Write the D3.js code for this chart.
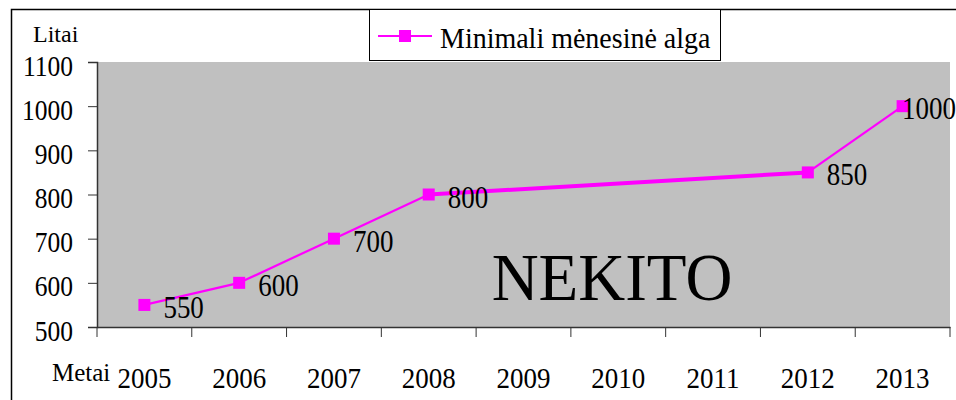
<!DOCTYPE html>
<html>
<head>
<meta charset="utf-8">
<script src="https://cdn.jsdelivr.net/npm/d3@7"></script>
<style>
  body { margin: 0; background: #fff; }
  text { font-family: "Liberation Serif", "Times New Roman", serif; fill: #000; }
</style>
</head>
<body>
<div id="plot"></div>
<script>
// Data
const years = ["2005", "2006", "2007", "2008", "2009", "2010", "2011", "2012", "2013"];
const wages = [550, 600, 700, 800, null, null, null, 850, 1000];
const yTicks = [500, 600, 700, 800, 900, 1000, 1100];
const seriesName = "Minimali mėnesinė alga";

const W = 956, H = 400;
const plot = { left: 97, right: 950, top: 62, bottom: 327 };
const serif = '"Liberation Serif", "Times New Roman", serif';

const svg = d3.select("#plot")
  .append("svg")
  .attr("width", W)
  .attr("height", H);

// the original text is a bit taller than wide, so stretch it vertically
function stretch(sel, size, sy) {
  sel.each(function () {
    const t = d3.select(this);
    const tx = +t.attr("x") || 0, ty = +t.attr("y") || 0;
    t.attr("x", 0).attr("y", 0).attr("dy", null)
      .attr("transform", `translate(${tx},${ty}) scale(1,${sy})`)
      .style("font-family", serif)
      .style("font-size", size + "px");
  });
}

// Outer chart frame
svg.append("rect")
  .attr("x", 11.5).attr("y", 9.5)
  .attr("width", 960).attr("height", 400)
  .attr("fill", "none")
  .attr("stroke", "#000")
  .attr("stroke-width", 1.5);

// Scales
const x = d3.scaleBand()
  .domain(years)
  .range([plot.left, plot.right]);

const y = d3.scaleLinear()
  .domain([500, 1100])
  .range([plot.bottom, plot.top]);

// Plot area background
svg.append("rect")
  .attr("x", plot.left).attr("y", plot.top)
  .attr("width", plot.right - plot.left)
  .attr("height", plot.bottom - plot.top)
  .attr("fill", "#c0c0c0");

// Y axis
const yAxis = svg.append("g")
  .attr("transform", `translate(${plot.left}, 0)`)
  .call(d3.axisLeft(y).tickValues(yTicks).tickFormat(d3.format("d")).tickSize(9).tickPadding(15));
yAxis.selectAll("text").attr("y", 13);
stretch(yAxis.selectAll("text"), 25.5, 1.16);

// X axis: labels centred in bands, ticks at band edges
const xAxis = svg.append("g")
  .attr("transform", `translate(0, ${plot.bottom})`)
  .call(d3.axisBottom(x).tickSize(0));
xAxis.selectAll("text").attr("y", 61);
stretch(xAxis.selectAll("text"), 27, 1.12);
xAxis.selectAll(".edge")
  .data(years.concat(["end"]))
  .enter()
  .append("line")
  .attr("class", "edge")
  .attr("x1", (d, i) => i < years.length ? x(d) : plot.right)
  .attr("x2", (d, i) => i < years.length ? x(d) : plot.right)
  .attr("y1", 0).attr("y2", 10)
  .attr("stroke", "#333");

svg.selectAll(".domain").attr("stroke", "#333").attr("stroke-width", 1.5);
svg.selectAll(".tick line").attr("stroke", "#333");

// Axis titles
svg.append("text")
  .attr("x", 33).attr("y", 42)
  .style("font-size", "24px")
  .text("Litai");
svg.append("text")
  .attr("x", 52).attr("y", 381)
  .style("font-size", "25px")
  .text("Metai");

// Big caption inside the plot
const cap = svg.append("text")
  .attr("x", 612).attr("y", 300)
  .attr("text-anchor", "middle")
  .text("NEKITO");
stretch(cap, 65, 1.05);

// Series
const pts = years.map((yr, i) => ({ year: yr, value: wages[i] }))
  .filter(d => d.value !== null);
const cx = d => x(d.year) + x.bandwidth() / 2;

const line = d3.line()
  .x(cx)
  .y(d => y(d.value));

// segments (the span over missing years is drawn heavier, as in the original)
for (let i = 0; i < pts.length - 1; i++) {
  const a = pts[i], b = pts[i + 1];
  const gap = years.indexOf(b.year) - years.indexOf(a.year) > 1;
  svg.append("path")
    .attr("d", line([a, b]))
    .attr("fill", "none")
    .attr("stroke", "#ff00ff")
    .attr("stroke-width", gap ? 4 : 2.2);
}

svg.selectAll(".marker")
  .data(pts)
  .enter()
  .append("rect")
  .attr("class", "marker")
  .attr("x", d => cx(d) - 6)
  .attr("y", d => y(d.value) - 6)
  .attr("width", 12).attr("height", 12)
  .attr("fill", "#ff00ff");

// Data labels (kept inside the window on the right)
const labels = svg.selectAll(".label")
  .data(pts)
  .enter()
  .append("text")
  .attr("class", "label")
  .style("font-family", serif)
  .style("font-size", "27px")
  .text(d => d.value);
labels.each(function (d) {
  const len = this.getComputedTextLength();
  const lx = Math.min(cx(d) + 19, W - len);
  d3.select(this).attr("x", lx).attr("y", y(d.value) + 13);
});
stretch(labels, 27, 1.15);

// Legend
const lg = svg.append("g");
lg.append("rect")
  .attr("x", 369.5).attr("y", 9.5)
  .attr("width", 351).attr("height", 51)
  .attr("fill", "#fff")
  .attr("stroke", "#000")
  .attr("stroke-width", 1);
lg.append("line")
  .attr("x1", 378).attr("x2", 432)
  .attr("y1", 36).attr("y2", 36)
  .attr("stroke", "#ff00ff").attr("stroke-width", 2.2);
lg.append("rect")
  .attr("x", 399).attr("y", 30)
  .attr("width", 12).attr("height", 12)
  .attr("fill", "#ff00ff");
const lgText = lg.append("text")
  .attr("x", 440).attr("y", 48)
  .text(seriesName);
stretch(lgText, 28, 1.07);
</script>
</body>
</html>
